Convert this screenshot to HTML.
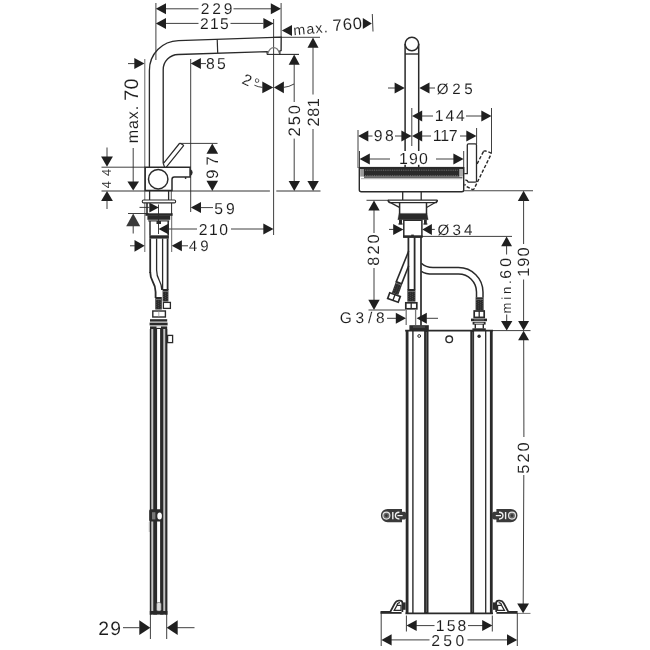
<!DOCTYPE html>
<html>
<head>
<meta charset="utf-8">
<title>Dimension drawing</title>
<style>
html,body{margin:0;padding:0;background:#fff;}
body{width:650px;height:650px;overflow:hidden;}
svg{display:block;}
svg text{font-family:"Liberation Sans",sans-serif;fill:#1c1c1c;stroke:#fff;stroke-width:0.08px;text-rendering:geometricPrecision;}
</style>
</head>
<body>
<svg width="650" height="650" viewBox="0 0 650 650">
<rect x="0" y="0" width="650" height="650" fill="#ffffff"/>
<g style="will-change:transform">
<line x1="155.9" y1="3" x2="155.9" y2="60" stroke="#2a2a2a" stroke-width="0.9" />
<line x1="281.1" y1="3" x2="281.1" y2="38" stroke="#2a2a2a" stroke-width="0.9" />
<line x1="273.6" y1="19" x2="273.6" y2="235" stroke="#2a2a2a" stroke-width="0.9" />
<polygon points="155.8,8.8 166.0,3.3 166.0,14.3" fill="#1f1f1f"/>
<polygon points="281,8.8 270.8,3.3 270.8,14.3" fill="#1f1f1f"/>
<line x1="166" y1="8.8" x2="198.5" y2="8.8" stroke="#2a2a2a" stroke-width="0.9" />
<line x1="233.5" y1="8.8" x2="271" y2="8.8" stroke="#2a2a2a" stroke-width="0.9" />
<text font-size="15.62" letter-spacing="2.89" transform="translate(200.71 13.6)">229</text>
<polygon points="155.8,23.4 166.0,17.9 166.0,28.9" fill="#1f1f1f"/>
<polygon points="273.6,23.4 263.4,17.9 263.4,28.9" fill="#1f1f1f"/>
<line x1="166" y1="23.4" x2="198.5" y2="23.4" stroke="#2a2a2a" stroke-width="0.9" />
<line x1="230.5" y1="23.4" x2="263.5" y2="23.4" stroke="#2a2a2a" stroke-width="0.9" />
<text font-size="15.62" letter-spacing="1.29" transform="translate(200.01 29)">215</text>
<polygon points="281.8,30.6 292.0,25.1 292.0,36.1" fill="#1f1f1f"/>
<text font-size="14.3" letter-spacing="1.19" transform="translate(294.6 35.2) rotate(-5.2) translate(-0.95 0)">max.</text>
<text font-size="16.6" letter-spacing="0.8" transform="translate(334 31.2) rotate(-5.2) translate(-0.85 0)">760</text>
<polygon points="371.8,23.4 362.8,17.9 362.8,28.9" fill="#1f1f1f"/>
<line x1="372.3" y1="14" x2="373" y2="31.5" stroke="#2a2a2a" stroke-width="0.9" />
<line x1="273" y1="37.3" x2="320" y2="37.3" stroke="#2a2a2a" stroke-width="0.9" />
<line x1="267" y1="54.4" x2="299" y2="54.4" stroke="#2a2a2a" stroke-width="1.1" />
<path d="M149.4,167 L149.4,70.4 A29.6,29.6 0 0 1 178.4,40.6 L281.2,37.1 L281.1,50.6 L279.8,51 L279.8,54.4" stroke="#2a2a2a" stroke-width="1.35" fill="none" />
<path d="M163.2,163.5 L163.2,69.8 A15.2,15.2 0 0 1 178.2,54.5 L267.2,51.6 L267.2,54.4" stroke="#2a2a2a" stroke-width="1.35" fill="none" />
<line x1="217.2" y1="39.3" x2="217.7" y2="53" stroke="#2a2a2a" stroke-width="1.2" />
<path d="M267.8,53.8 C269,49.5 271.5,47.6 273.6,47.6 C275.8,47.6 278.4,49.5 279.4,53.4" stroke="#777" stroke-width="1.2" fill="none" />
<polygon points="273.3,87.4 262.3,81.6 262.3,93.2" fill="#1f1f1f"/>
<polygon points="273.9,87.4 283.9,81.6 283.9,93.2" fill="#1f1f1f"/>
<path d="M254.4,85.2 Q258,87 262.5,87.4" stroke="#2a2a2a" stroke-width="0.9" fill="none" />
<path d="M283.5,87.4 Q289,87 294,84" stroke="#2a2a2a" stroke-width="0.9" fill="none" />
<text font-size="15.5" letter-spacing="2.29" transform="translate(241.6 83.2) rotate(24) translate(-0.78 0)">2°</text>
<polygon points="294.2,54.6 288.7,64.8 299.7,64.8" fill="#1f1f1f"/>
<line x1="294.2" y1="64" x2="294.2" y2="102" stroke="#2a2a2a" stroke-width="0.9" />
<line x1="294.2" y1="138.6" x2="294.2" y2="182" stroke="#2a2a2a" stroke-width="0.9" />
<polygon points="294.3,191.1 288.6,180.9 300.0,180.9" fill="#1f1f1f"/>
<text font-size="16.62" letter-spacing="1.88" transform="translate(299.6 136.44) rotate(-90)">250</text>
<polygon points="313,37.5 307.5,47.7 318.5,47.7" fill="#1f1f1f"/>
<line x1="313" y1="47" x2="313" y2="94.5" stroke="#2a2a2a" stroke-width="0.9" />
<line x1="313" y1="129" x2="313" y2="182" stroke="#2a2a2a" stroke-width="0.9" />
<polygon points="313.1,191.1 307.4,180.9 318.8,180.9" fill="#1f1f1f"/>
<text font-size="16.33" letter-spacing="0.48" transform="translate(319 126.42) rotate(-90)">281</text>
<line x1="101.5" y1="191.0" x2="269.9" y2="191.0" stroke="#333" stroke-width="1.0" />
<line x1="276.3" y1="191.0" x2="320.5" y2="191.0" stroke="#333" stroke-width="1.0" />
<polygon points="190.7,63.6 200.9,58.1 200.9,69.1" fill="#1f1f1f"/>
<line x1="200" y1="63.6" x2="206" y2="63.6" stroke="#2a2a2a" stroke-width="0.9" />
<text font-size="15.76" letter-spacing="2.22" transform="translate(206.12 69.2)">85</text>
<polygon points="144.5,63.6 134.3,58.1 134.3,69.1" fill="#1f1f1f"/>
<line x1="128" y1="63.6" x2="135" y2="63.6" stroke="#2a2a2a" stroke-width="0.9" />
<line x1="144.8" y1="59" x2="144.8" y2="252" stroke="#555" stroke-width="0.9" />
<line x1="190.7" y1="59" x2="190.7" y2="212" stroke="#2a2a2a" stroke-width="0.9" />
<text font-size="16" letter-spacing="0.95" transform="translate(138.2 143.36) rotate(-90)">max.</text>
<text font-size="19.63" letter-spacing="0.24" transform="translate(138.2 100.71) rotate(-90)">70</text>
<line x1="133.2" y1="148" x2="133.2" y2="182" stroke="#2a2a2a" stroke-width="0.9" />
<polygon points="133.2,190.6 127.4,181.6 139.0,181.6" fill="#1f1f1f"/>
<line x1="128" y1="213.5" x2="148.5" y2="213.5" stroke="#2a2a2a" stroke-width="0.9" />
<polygon points="133.2,213.6 126.2,226.2 140.2,226.2" fill="#3a3a3a"/>
<line x1="133.2" y1="226" x2="133.2" y2="233.5" stroke="#2a2a2a" stroke-width="0.9" />
<line x1="101.5" y1="167.2" x2="145" y2="167.2" stroke="#2a2a2a" stroke-width="0.9" />
<line x1="107" y1="147.5" x2="107" y2="157" stroke="#2a2a2a" stroke-width="0.9" />
<polygon points="107,166.7 101.1,156.5 112.9,156.5" fill="#1f1f1f"/>
<text font-size="13.08" letter-spacing="5.13" transform="translate(111 188.3) rotate(-90)">44</text>
<polygon points="107,190.9 101.1,201.1 112.9,201.1" fill="#1f1f1f"/>
<line x1="107" y1="200" x2="107" y2="209" stroke="#2a2a2a" stroke-width="0.9" />
<line x1="180" y1="143.4" x2="217.5" y2="143.4" stroke="#2a2a2a" stroke-width="0.9" />
<polygon points="212.3,143.6 206.5,153.8 218.1,153.8" fill="#1f1f1f"/>
<polygon points="212.3,191.0 206.5,180.8 218.1,180.8" fill="#1f1f1f"/>
<text font-size="16.62" letter-spacing="4.13" transform="translate(218 178.78) rotate(-90)">97</text>
<polygon points="190.8,207.6 201.0,202.1 201.0,213.1" fill="#1f1f1f"/>
<line x1="200" y1="207.6" x2="213" y2="207.6" stroke="#2a2a2a" stroke-width="0.9" />
<text font-size="15.76" letter-spacing="3.05" transform="translate(214.17 214)">59</text>
<polygon points="158.7,207.4 149.3,202.4 149.3,212.4" fill="#1f1f1f"/>
<line x1="139.5" y1="207.4" x2="149.5" y2="207.4" stroke="#2a2a2a" stroke-width="0.9" />
<line x1="158.5" y1="204.5" x2="158.5" y2="234" stroke="#2a2a2a" stroke-width="0.9" />
<polygon points="158.6,229 168.8,223.5 168.8,234.5" fill="#1f1f1f"/>
<line x1="168" y1="229" x2="197" y2="229" stroke="#2a2a2a" stroke-width="0.9" />
<text font-size="15.76" letter-spacing="1.56" transform="translate(198.71 234.5)">210</text>
<line x1="231" y1="229" x2="264" y2="229" stroke="#2a2a2a" stroke-width="0.9" />
<polygon points="273.5,229 263.3,223.5 263.3,234.5" fill="#1f1f1f"/>
<polygon points="144.7,245.8 134.5,239.9 134.5,251.7" fill="#1f1f1f"/>
<line x1="130" y1="245.8" x2="135" y2="245.8" stroke="#2a2a2a" stroke-width="0.9" />
<polygon points="171.7,245.8 181.9,240.3 181.9,251.3" fill="#1f1f1f"/>
<line x1="181" y1="245.8" x2="188" y2="245.8" stroke="#2a2a2a" stroke-width="0.9" />
<text font-size="15.04" letter-spacing="3.33" transform="translate(188.65 251)">49</text>
<line x1="171.7" y1="213" x2="171.7" y2="252" stroke="#555" stroke-width="0.9" />
<path d="M145.2,167.3 H190.1 V177.1 H174.3 Q172,177.1 172,179.4 V190.6 H145.2 Z" stroke="#2a2a2a" stroke-width="1.5" fill="#fff" />
<circle cx="158.2" cy="179.2" r="9.7" fill="#fff" stroke="#2a2a2a" stroke-width="1.5"/>
<path d="M190.3,169.5 Q192.3,170 192.3,172.5 Q192.3,175 190.3,175.6 Z" stroke="#2a2a2a" stroke-width="0.6" fill="#2a2a2a" />
<circle cx="185.6" cy="178" r="0.9" fill="#2a2a2a"/>
<path d="M163.3,163.6 L179.4,143.5 Q179.9,143 180.6,143.5 L183.2,145 Q183.8,145.4 183.4,146 L166.3,167.2" stroke="#2a2a2a" stroke-width="1.2" fill="none" />
<path d="M163.3,163.6 L164.6,167.2" stroke="#2a2a2a" stroke-width="1.2" fill="none" />
<line x1="149.6" y1="190.6" x2="149.6" y2="200" stroke="#2a2a2a" stroke-width="1.3" />
<line x1="168.6" y1="190.6" x2="168.6" y2="200" stroke="#2a2a2a" stroke-width="1.3" />
<line x1="171.3" y1="190.6" x2="171.3" y2="200" stroke="#2a2a2a" stroke-width="0.8" />
<rect x="142.3" y="200" width="33.3" height="2.9" fill="#fff" stroke="#2a2a2a" stroke-width="1.1" rx="1.2"/>
<line x1="147" y1="203" x2="147" y2="214" stroke="#2a2a2a" stroke-width="1.6" />
<line x1="171.6" y1="203" x2="171.6" y2="214" stroke="#2a2a2a" stroke-width="1.0" />
<rect x="145.4" y="213.3" width="27.2" height="2.5" fill="#2a2a2a" stroke="none" stroke-width="0" rx="0"/>
<rect x="147.4" y="215.4" width="22.8" height="4.4" fill="#2a2a2a" stroke="none" stroke-width="0" rx="0"/>
<line x1="148.2" y1="220.9" x2="169.3" y2="220.9" stroke="#2a2a2a" stroke-width="1.1" />
<rect x="156.5" y="221" width="4.5" height="3" fill="#2a2a2a" stroke="none" stroke-width="0" rx="0"/>
<line x1="150" y1="221" x2="150" y2="235.5" stroke="#2a2a2a" stroke-width="1.5" />
<line x1="168.2" y1="221" x2="168.2" y2="235.5" stroke="#2a2a2a" stroke-width="1.5" />
<rect x="149.3" y="235.3" width="19.6" height="3.3" fill="#2a2a2a" stroke="none" stroke-width="0" rx="0"/>
<line x1="150.2" y1="238.5" x2="150.2" y2="273" stroke="#2a2a2a" stroke-width="1.8" />
<path d="M150.2,272 C150.2,283 155.6,281 155.6,292 L155.6,298" stroke="#2a2a2a" stroke-width="1.8" fill="none" />
<path d="M156.6,238.5 L156.6,270 C156.6,281 161.8,280 161.8,290" stroke="#2a2a2a" stroke-width="1.3" fill="none" />
<line x1="162.6" y1="238.5" x2="162.6" y2="290" stroke="#2a2a2a" stroke-width="1.3" />
<line x1="167.6" y1="238.5" x2="167.6" y2="290" stroke="#2a2a2a" stroke-width="1.8" />
<rect x="162.6" y="289" width="5.8" height="12.5" fill="#2a2a2a" stroke="none" stroke-width="0" rx="0"/>
<line x1="163.57" y1="291.6" x2="163.57" y2="301.1" stroke="#5e5e5e" stroke-width="0.7" stroke-dasharray="0.9 1.3" stroke-dashoffset="0.0"/>
<line x1="165.5" y1="291.6" x2="165.5" y2="301.1" stroke="#5e5e5e" stroke-width="0.7" stroke-dasharray="0.9 1.3" stroke-dashoffset="1.1"/>
<line x1="167.43" y1="291.6" x2="167.43" y2="301.1" stroke="#5e5e5e" stroke-width="0.7" stroke-dasharray="0.9 1.3" stroke-dashoffset="2.2"/>
<line x1="163" y1="291.5" x2="168" y2="291.5" stroke="#aaa" stroke-width="0.5" />
<rect x="163.4" y="302.4" width="7.0" height="6.0" fill="#fff" stroke="#2a2a2a" stroke-width="1.3" rx="0"/>
<rect x="155.3" y="297" width="6.5" height="12.5" fill="#2a2a2a" stroke="none" stroke-width="0" rx="0"/>
<line x1="156.38" y1="299.6" x2="156.38" y2="309.1" stroke="#5e5e5e" stroke-width="0.7" stroke-dasharray="0.9 1.3" stroke-dashoffset="0.0"/>
<line x1="158.55" y1="299.6" x2="158.55" y2="309.1" stroke="#5e5e5e" stroke-width="0.7" stroke-dasharray="0.9 1.3" stroke-dashoffset="1.1"/>
<line x1="160.72" y1="299.6" x2="160.72" y2="309.1" stroke="#5e5e5e" stroke-width="0.7" stroke-dasharray="0.9 1.3" stroke-dashoffset="2.2"/>
<line x1="156" y1="299.5" x2="161" y2="299.5" stroke="#aaa" stroke-width="0.5" />
<rect x="152.8" y="311" width="12.6" height="6" fill="#fff" stroke="#2a2a2a" stroke-width="1.4" rx="0"/>
<line x1="158.8" y1="311" x2="158.8" y2="317" stroke="#8c8c8c" stroke-width="0.7" />
<rect x="150" y="319.2" width="17.2" height="2.4" fill="#2a2a2a" stroke="none" stroke-width="0" rx="0"/>
<rect x="149.6" y="322.6" width="18.0" height="2.8" fill="#2a2a2a" stroke="none" stroke-width="0" rx="0"/>
<rect x="150" y="326.4" width="17.2" height="2.6" fill="#2a2a2a" stroke="none" stroke-width="0" rx="0"/>
<rect x="156.5" y="326" width="4.5" height="2" fill="#ddd" stroke="none" stroke-width="0" rx="0"/>
<rect x="149.8" y="329" width="17.6" height="285.6" fill="#fff" stroke="none" stroke-width="0" rx="0"/>
<rect x="149.8" y="329" width="1.8" height="285.6" fill="#2a2a2a" stroke="none" stroke-width="0" rx="0"/>
<rect x="151.6" y="329" width="1.6" height="285.6" fill="#c4c4c4" stroke="none" stroke-width="0" rx="0"/>
<rect x="153.2" y="329" width="3.9" height="285.6" fill="#2a2a2a" stroke="none" stroke-width="0" rx="0"/>
<rect x="160.1" y="329" width="3.5" height="285.6" fill="#2a2a2a" stroke="none" stroke-width="0" rx="0"/>
<rect x="163.6" y="329" width="1.6" height="285.6" fill="#c4c4c4" stroke="none" stroke-width="0" rx="0"/>
<rect x="165.2" y="329" width="2.2" height="285.6" fill="#2a2a2a" stroke="none" stroke-width="0" rx="0"/>
<rect x="149.8" y="611" width="17.6" height="3.6" fill="#2a2a2a" stroke="none" stroke-width="0" rx="0"/>
<rect x="156.6" y="602.5" width="4.6" height="8.5" fill="#ddd" stroke="#555" stroke-width="0.6" rx="1.5"/>
<rect x="167.6" y="335.4" width="5.0" height="7.2" fill="#fff" stroke="#2a2a2a" stroke-width="1.3" rx="0"/>
<rect x="149.2" y="509.2" width="13.1" height="12.3" fill="#2a2a2a" stroke="none" stroke-width="0" rx="1.5"/>
<rect x="152" y="512.2" width="3.4" height="7.2" fill="#777" stroke="none" stroke-width="0" rx="0"/>
<ellipse cx="159.6" cy="516" rx="2.3" ry="3.6" fill="#fff"/>
<line x1="149.3" y1="522" x2="149.3" y2="532" stroke="#888" stroke-width="0.6" />
<text font-size="19.34" letter-spacing="1.18" transform="translate(98.33 634.5)">29</text>
<line x1="123" y1="627.7" x2="139.5" y2="627.7" stroke="#2a2a2a" stroke-width="0.9" />
<polygon points="150.3,627.7 139.3,620.3 139.3,635.1" fill="#1f1f1f"/>
<polygon points="166.7,627.7 177.7,620.3 177.7,635.1" fill="#1f1f1f"/>
<line x1="177" y1="627.7" x2="194.5" y2="627.7" stroke="#2a2a2a" stroke-width="0.9" />
<line x1="150.4" y1="614" x2="150.4" y2="639" stroke="#2a2a2a" stroke-width="0.9" />
<line x1="166.7" y1="614" x2="166.7" y2="639" stroke="#2a2a2a" stroke-width="0.9" />
<path d="M405.1,167.5 V44 M418.7,44 V167.5" stroke="#2a2a2a" stroke-width="1.5" fill="none" />
<circle cx="411.9" cy="44" r="6.8" fill="none" stroke="#2a2a2a" stroke-width="1.5"/>
<line x1="405.1" y1="54" x2="418.7" y2="54" stroke="#2a2a2a" stroke-width="1.4" />
<polygon points="404.8,88 394.6,82.5 394.6,93.5" fill="#1f1f1f"/>
<line x1="388" y1="88" x2="395" y2="88" stroke="#2a2a2a" stroke-width="0.9" />
<polygon points="419.3,88 429.5,82.5 429.5,93.5" fill="#1f1f1f"/>
<line x1="429" y1="88" x2="435" y2="88" stroke="#2a2a2a" stroke-width="0.9" />
<text font-size="15.19" letter-spacing="3.53" transform="translate(436.87 93.6)">Ø25</text>
<line x1="411.8" y1="108" x2="411.8" y2="146" stroke="#2a2a2a" stroke-width="0.9" />
<line x1="491.5" y1="108" x2="491.5" y2="153.5" stroke="#2a2a2a" stroke-width="0.9" />
<polygon points="412,116 422.2,110.5 422.2,121.5" fill="#1f1f1f"/>
<line x1="421" y1="116" x2="433" y2="116" stroke="#2a2a2a" stroke-width="0.9" />
<text font-size="15.7" letter-spacing="1.93" transform="translate(434.8 121.4)">144</text>
<line x1="466" y1="116" x2="482" y2="116" stroke="#2a2a2a" stroke-width="0.9" />
<polygon points="491.5,116 481.3,110.5 481.3,121.5" fill="#1f1f1f"/>
<line x1="358" y1="130" x2="358" y2="168" stroke="#2a2a2a" stroke-width="0.9" />
<line x1="476.6" y1="128" x2="476.6" y2="144" stroke="#2a2a2a" stroke-width="0.9" />
<polygon points="358.1,136 368.3,130.5 368.3,141.5" fill="#1f1f1f"/>
<line x1="368" y1="136" x2="372.5" y2="136" stroke="#2a2a2a" stroke-width="0.9" />
<text font-size="15.76" letter-spacing="2.29" transform="translate(373.86 141)">98</text>
<line x1="395" y1="136" x2="402" y2="136" stroke="#2a2a2a" stroke-width="0.9" />
<polygon points="411.6,136 401.4,130.5 401.4,141.5" fill="#1f1f1f"/>
<polygon points="412,136 422.2,130.5 422.2,141.5" fill="#1f1f1f"/>
<line x1="421" y1="136" x2="431" y2="136" stroke="#2a2a2a" stroke-width="0.9" />
<text font-size="15.99" letter-spacing="-0.33" transform="translate(432.78 141)">117</text>
<line x1="460" y1="136" x2="467" y2="136" stroke="#2a2a2a" stroke-width="0.9" />
<polygon points="476.5,136 466.3,130.5 466.3,141.5" fill="#1f1f1f"/>
<line x1="359.5" y1="151" x2="359.5" y2="168" stroke="#2a2a2a" stroke-width="0.9" />
<line x1="463.7" y1="151" x2="463.7" y2="174" stroke="#2a2a2a" stroke-width="0.9" />
<polygon points="359.6,159 369.8,153.5 369.8,164.5" fill="#1f1f1f"/>
<line x1="369" y1="159" x2="390" y2="159" stroke="#2a2a2a" stroke-width="0.9" />
<rect x="398.6" y="151" width="30.6" height="13.8" fill="#fff" stroke="none" stroke-width="0" rx="0"/>
<text font-size="15.9" letter-spacing="1.15" transform="translate(398.99 163.5)">190</text>
<line x1="436" y1="159" x2="454" y2="159" stroke="#2a2a2a" stroke-width="0.9" />
<polygon points="463.6,159 453.4,153.5 453.4,164.5" fill="#1f1f1f"/>
<path d="M359.3,167.6 H463.7 V190 Q463.7,191.8 461.8,191.8 H361.3 Q359.3,191.8 359.3,189.8 Z" stroke="#2a2a2a" stroke-width="1.4" fill="#fff" />
<rect x="359.3" y="166.9" width="104.4" height="2.1" fill="#2a2a2a" stroke="none" stroke-width="0" rx="0"/>
<rect x="360.2" y="169" width="3.6" height="7.6" fill="#999" stroke="none" stroke-width="0" rx="0"/>
<rect x="363.8" y="169" width="95.8" height="7.7" fill="#2a2a2a" stroke="none" stroke-width="0" rx="0"/>
<line x1="365" y1="170.2" x2="458.5" y2="170.2" stroke="#bbb" stroke-width="0.5" stroke-dasharray="1 0.8"/>
<line x1="365" y1="175.7" x2="458.5" y2="175.7" stroke="#bbb" stroke-width="0.5" stroke-dasharray="1 0.8"/>
<rect x="459.6" y="169" width="3.4" height="7.6" fill="#aaa" stroke="none" stroke-width="0" rx="0"/>
<line x1="364" y1="177.6" x2="462.5" y2="177.6" stroke="#2a2a2a" stroke-width="0.8" />
<line x1="361" y1="178.7" x2="462.5" y2="178.7" stroke="#999" stroke-width="0.8" />
<line x1="463.7" y1="190.7" x2="533" y2="190.7" stroke="#444" stroke-width="1.1" />
<path d="M464.3,173.6 H467.3 V145 Q467.3,143.8 468.5,143.8 H475.3 Q476.5,143.8 476.5,145 V181.3 Q476.3,182.2 474.6,182.2 H468.3 Q467.6,180.2 465.4,180" stroke="#2a2a2a" stroke-width="1.3" fill="none" />
<path d="M483.4,151.6 Q484.2,150.6 485.6,151 L490.2,152.6 Q491.5,153.2 490.9,154.6 L474.2,188.6 Q473.4,189.9 472,189.3 L465.6,186 Q464.6,185.2 465.2,184" stroke="#2a2a2a" stroke-width="1.4" fill="none" stroke-dasharray="3.4 1.8"/>
<path d="M483.4,151.6 L476.8,164.5" stroke="#2a2a2a" stroke-width="1.4" fill="none" stroke-dasharray="3.4 1.8"/>
<line x1="402.7" y1="192" x2="402.7" y2="200" stroke="#2a2a2a" stroke-width="1.3" />
<line x1="421.2" y1="192" x2="421.2" y2="200" stroke="#2a2a2a" stroke-width="1.3" />
<line x1="366.5" y1="200.3" x2="389" y2="200.3" stroke="#2a2a2a" stroke-width="0.9" />
<path d="M388.6,200.1 H436.8 Q437.6,200.2 437.2,201.2 L436.3,202.6 H389.4 L388.2,201.2 Q387.8,200.2 388.6,200.1 Z" stroke="#2a2a2a" stroke-width="1.4" fill="#fff" />
<path d="M388.6,201.6 L399.4,207.4 M437,201.6 L426.6,207.4" stroke="#2a2a2a" stroke-width="1.2" fill="none" />
<line x1="399.6" y1="202.6" x2="399.6" y2="214" stroke="#2a2a2a" stroke-width="1.5" />
<line x1="426.5" y1="202.6" x2="426.5" y2="214" stroke="#2a2a2a" stroke-width="1.5" />
<path d="M399,213.4 H427 L428.2,219.7 H397.8 Z" stroke="#2a2a2a" stroke-width="0.3" fill="#2a2a2a" />
<rect x="399" y="219.5" width="3" height="4.7" fill="#2a2a2a" stroke="none" stroke-width="0" rx="0"/>
<rect x="424" y="219.5" width="2.8" height="4.7" fill="#2a2a2a" stroke="none" stroke-width="0" rx="0"/>
<rect x="398.4" y="223.4" width="4.2" height="1.2" fill="#2a2a2a" stroke="none" stroke-width="0" rx="0"/>
<rect x="423.4" y="223.4" width="4.0" height="1.2" fill="#2a2a2a" stroke="none" stroke-width="0" rx="0"/>
<path d="M403.8,220.3 V236.5 H421.9 V220.3 Z" stroke="#2a2a2a" stroke-width="1.5" fill="#fff" />
<rect x="403.1" y="235.4" width="19.5" height="2.5" fill="#2a2a2a" stroke="none" stroke-width="0" rx="0"/>
<rect x="411.2" y="234.6" width="2.6" height="1.4" fill="#2a2a2a" stroke="none" stroke-width="0" rx="0"/>
<polygon points="374,200.4 368.3,210.6 379.7,210.6" fill="#1f1f1f"/>
<line x1="374" y1="210" x2="374" y2="233" stroke="#2a2a2a" stroke-width="0.9" />
<text font-size="16.33" letter-spacing="2.05" transform="translate(379.4 265.71) rotate(-90)">820</text>
<line x1="374" y1="268" x2="374" y2="301" stroke="#2a2a2a" stroke-width="0.9" />
<polygon points="374,310 368.3,299.8 379.7,299.8" fill="#1f1f1f"/>
<line x1="368.5" y1="310" x2="405.5" y2="310" stroke="#2a2a2a" stroke-width="0.9" />
<polygon points="403.4,229.4 393.2,223.9 393.2,234.9" fill="#1f1f1f"/>
<line x1="389" y1="229.4" x2="394" y2="229.4" stroke="#2a2a2a" stroke-width="0.9" />
<polygon points="422.3,229.4 431.9,223.9 431.9,234.9" fill="#1f1f1f"/>
<line x1="431" y1="229.4" x2="434.8" y2="229.4" stroke="#2a2a2a" stroke-width="0.9" />
<text font-size="15.19" letter-spacing="3.13" transform="translate(437.47 235.4)">Ø34</text>
<line x1="422" y1="236.4" x2="512" y2="236.4" stroke="#2a2a2a" stroke-width="0.9" />
<line x1="408.4" y1="237" x2="408.4" y2="289.5" stroke="#2a2a2a" stroke-width="1.8" />
<line x1="414.6" y1="237" x2="414.6" y2="289.5" stroke="#2a2a2a" stroke-width="1.8" />
<line x1="421" y1="237" x2="421" y2="325.5" stroke="#2a2a2a" stroke-width="1.7" />
<path d="M408.7,251 L396,282.4" stroke="#2a2a2a" stroke-width="1.6" fill="none" />
<path d="M408.7,265.8 L401.8,283.4" stroke="#2a2a2a" stroke-width="1.6" fill="none" />
<g transform="rotate(20 399.3 282)">
<rect x="396" y="282" width="6.8" height="12.6" fill="#2a2a2a" stroke="none" stroke-width="0" rx="0"/>
<line x1="397.13" y1="284.6" x2="397.13" y2="294.20000000000005" stroke="#5e5e5e" stroke-width="0.7" stroke-dasharray="0.9 1.3" stroke-dashoffset="0.0"/>
<line x1="399.4" y1="284.6" x2="399.4" y2="294.20000000000005" stroke="#5e5e5e" stroke-width="0.7" stroke-dasharray="0.9 1.3" stroke-dashoffset="1.1"/>
<line x1="401.67" y1="284.6" x2="401.67" y2="294.20000000000005" stroke="#5e5e5e" stroke-width="0.7" stroke-dasharray="0.9 1.3" stroke-dashoffset="2.2"/>
<line x1="396.4" y1="284.2" x2="402.4" y2="284.2" stroke="#aaa" stroke-width="0.5" />
<rect x="394" y="295.4" width="11.2" height="6.0" fill="#fff" stroke="#2a2a2a" stroke-width="1.7" rx="0"/>
<line x1="399.6" y1="295.4" x2="399.6" y2="301.4" stroke="#2a2a2a" stroke-width="1.3" />
</g>
<rect x="407.4" y="289" width="8.0" height="12.6" fill="#2a2a2a" stroke="none" stroke-width="0" rx="0"/>
<line x1="408.4" y1="291.6" x2="408.4" y2="301.20000000000005" stroke="#5e5e5e" stroke-width="0.7" stroke-dasharray="0.9 1.3" stroke-dashoffset="0.0"/>
<line x1="410.4" y1="291.6" x2="410.4" y2="301.20000000000005" stroke="#5e5e5e" stroke-width="0.7" stroke-dasharray="0.9 1.3" stroke-dashoffset="1.1"/>
<line x1="412.4" y1="291.6" x2="412.4" y2="301.20000000000005" stroke="#5e5e5e" stroke-width="0.7" stroke-dasharray="0.9 1.3" stroke-dashoffset="2.2"/>
<line x1="414.4" y1="291.6" x2="414.4" y2="301.20000000000005" stroke="#5e5e5e" stroke-width="0.7" stroke-dasharray="0.9 1.3" stroke-dashoffset="3.3000000000000003"/>
<line x1="408" y1="291.5" x2="415" y2="291.5" stroke="#aaa" stroke-width="0.5" />
<rect x="405.8" y="302.8" width="11.0" height="6.0" fill="#fff" stroke="#2a2a2a" stroke-width="1.7" rx="0"/>
<line x1="411.2" y1="303" x2="411.2" y2="309" stroke="#2a2a2a" stroke-width="1.3" />
<line x1="406.2" y1="309.6" x2="406.2" y2="325" stroke="#777" stroke-width="1.3" />
<line x1="415.6" y1="309.6" x2="415.6" y2="325" stroke="#777" stroke-width="1.3" />
<rect x="409.4" y="325.2" width="19.4" height="5.0" fill="#2a2a2a" stroke="none" stroke-width="0" rx="0"/>
<line x1="413" y1="327" x2="425" y2="327" stroke="#999" stroke-width="0.5" />
<path d="M421.4,263.3 C424.5,266.4 428,267.5 433,267.5 H458.5 A24.5,24.5 0 0 1 483,292 V297.5" stroke="#2a2a2a" stroke-width="1.5" fill="none" />
<path d="M421.4,271.3 C424.5,273.4 428,274.1 433,274.1 H458.5 A18,18 0 0 1 476.5,292 V297.5" stroke="#2a2a2a" stroke-width="1.5" fill="none" />
<rect x="475.6" y="297.3" width="8.0" height="13.1" fill="#2a2a2a" stroke="none" stroke-width="0" rx="0"/>
<line x1="476.6" y1="299.90000000000003" x2="476.6" y2="310.0" stroke="#5e5e5e" stroke-width="0.7" stroke-dasharray="0.9 1.3" stroke-dashoffset="0.0"/>
<line x1="478.6" y1="299.90000000000003" x2="478.6" y2="310.0" stroke="#5e5e5e" stroke-width="0.7" stroke-dasharray="0.9 1.3" stroke-dashoffset="1.1"/>
<line x1="480.6" y1="299.90000000000003" x2="480.6" y2="310.0" stroke="#5e5e5e" stroke-width="0.7" stroke-dasharray="0.9 1.3" stroke-dashoffset="2.2"/>
<line x1="482.6" y1="299.90000000000003" x2="482.6" y2="310.0" stroke="#5e5e5e" stroke-width="0.7" stroke-dasharray="0.9 1.3" stroke-dashoffset="3.3000000000000003"/>
<line x1="476.2" y1="299.4" x2="483" y2="299.4" stroke="#aaa" stroke-width="0.5" />
<rect x="474.2" y="311" width="10.0" height="6.4" fill="#fff" stroke="#2a2a2a" stroke-width="1.7" rx="0"/>
<line x1="479.2" y1="311" x2="479.2" y2="317.4" stroke="#2a2a2a" stroke-width="1.3" />
<rect x="471" y="318.6" width="16" height="2.6" fill="#2a2a2a" stroke="none" stroke-width="0" rx="0"/>
<line x1="474" y1="319.9" x2="484" y2="319.9" stroke="#bbb" stroke-width="0.5" />
<rect x="472.6" y="321.9" width="13.0" height="2.7" fill="#2a2a2a" stroke="none" stroke-width="0" rx="0"/>
<rect x="474.4" y="322.7" width="9.4" height="1.1" fill="#ddd" stroke="none" stroke-width="0" rx="0"/>
<line x1="475.3" y1="324" x2="475.3" y2="328.6" stroke="#2a2a2a" stroke-width="1.4" />
<line x1="483.3" y1="324" x2="483.3" y2="328.6" stroke="#2a2a2a" stroke-width="1.4" />
<rect x="472.4" y="328.3" width="13.4" height="2.5" fill="#2a2a2a" stroke="none" stroke-width="0" rx="0"/>
<text font-size="15.47" letter-spacing="3.77" transform="translate(339.82 323.4)">G3/8</text>
<line x1="387" y1="318.3" x2="397" y2="318.3" stroke="#2a2a2a" stroke-width="0.9" />
<polygon points="406,318.3 395.8,312.8 395.8,323.8" fill="#1f1f1f"/>
<polygon points="416.6,318.3 426.8,312.8 426.8,323.8" fill="#1f1f1f"/>
<line x1="426" y1="318.3" x2="438" y2="318.3" stroke="#2a2a2a" stroke-width="0.9" />
<line x1="405.2" y1="330.6" x2="493" y2="330.6" stroke="#2a2a2a" stroke-width="1.6" />
<line x1="407.1" y1="330" x2="407.1" y2="613" stroke="#2a2a2a" stroke-width="2.8" />
<line x1="412.9" y1="330" x2="412.9" y2="613" stroke="#2a2a2a" stroke-width="1.4" />
<line x1="426.3" y1="330" x2="426.3" y2="613" stroke="#2a2a2a" stroke-width="4.4" />
<line x1="426.4" y1="332" x2="426.4" y2="612" stroke="#999" stroke-width="0.5" />
<line x1="472.2" y1="330" x2="472.2" y2="613" stroke="#2a2a2a" stroke-width="3.8" />
<line x1="472.7" y1="332" x2="472.7" y2="612" stroke="#999" stroke-width="0.5" />
<line x1="485.7" y1="330" x2="485.7" y2="613" stroke="#2a2a2a" stroke-width="1.3" />
<line x1="491.3" y1="330" x2="491.3" y2="613" stroke="#2a2a2a" stroke-width="2.8" />
<circle cx="419.2" cy="336" r="1.4" fill="#fff" stroke="#2a2a2a" stroke-width="1"/>
<circle cx="449.2" cy="339.3" r="3.3" fill="#fff" stroke="#2a2a2a" stroke-width="1.4"/>
<circle cx="479.1" cy="336.2" r="1.7" fill="#2a2a2a"/>
<line x1="380.5" y1="612.4" x2="401.6" y2="612.4" stroke="#2a2a2a" stroke-width="2.8" />
<line x1="496.4" y1="612.4" x2="517.6" y2="612.4" stroke="#2a2a2a" stroke-width="2.8" />
<line x1="405.4" y1="613.4" x2="493" y2="613.4" stroke="#2a2a2a" stroke-width="1.7" />
<line x1="517.6" y1="613.4" x2="530.5" y2="613.4" stroke="#666" stroke-width="0.9" />
<g transform="translate(406 515.6) scale(1 1)">
<path d="M0.4,-2.6 L-1.4,-3.8 H-4 V-6.7 H-18.4 A6.7,6.7 0 0 0 -18.4,6.7 H-4 V3.8 H-1.4 L0.4,2.6 Z" fill="#3a3a3a"/>
<circle cx="-19.6" cy="0" r="3.5" fill="#666" stroke="#e4e4e4" stroke-width="1.1"/>
<circle cx="-19.6" cy="0" r="1.3" fill="#333"/>
<path d="M-13.2,-3.6 V3.6" stroke="#f0f0f0" stroke-width="1.4"/>
<path d="M-6.6,-3.4 Q-10.6,-3.4 -10.6,0 Q-10.6,3.4 -6.6,3.4" stroke="#f0f0f0" stroke-width="1.4" fill="none"/>
<path d="M-8.6,0 H-3.4" stroke="#f0f0f0" stroke-width="1.2"/>
</g>
<g transform="translate(492.4 515.6) scale(-1 1)">
<path d="M0.4,-2.6 L-1.4,-3.8 H-4 V-6.7 H-18.4 A6.7,6.7 0 0 0 -18.4,6.7 H-4 V3.8 H-1.4 L0.4,2.6 Z" fill="#3a3a3a"/>
<circle cx="-19.6" cy="0" r="3.5" fill="#666" stroke="#e4e4e4" stroke-width="1.1"/>
<circle cx="-19.6" cy="0" r="1.3" fill="#333"/>
<path d="M-13.2,-3.6 V3.6" stroke="#f0f0f0" stroke-width="1.4"/>
<path d="M-6.6,-3.4 Q-10.6,-3.4 -10.6,0 Q-10.6,3.4 -6.6,3.4" stroke="#f0f0f0" stroke-width="1.4" fill="none"/>
<path d="M-8.6,0 H-3.4" stroke="#f0f0f0" stroke-width="1.2"/>
</g>
<g transform="translate(405.6 612) scale(1 1)">
<path d="M-15.4,0 L-10.6,-9 Q-9.4,-11.4 -6.8,-11.4 H-5.6 Q-3.2,-11.4 -3.2,-9 V0" fill="#fff" stroke="#2a2a2a" stroke-width="1.7"/>
<path d="M-11.4,-1.6 L-8.6,-6.6 H-4.6 V-1.6 Z" fill="#fff" stroke="#2a2a2a" stroke-width="1.2"/>
<path d="M-8.6,-7 Q-8,-9.4 -5.6,-9.4" fill="none" stroke="#2a2a2a" stroke-width="1.1"/>
<rect x="-3" y="-9.6" width="3" height="7.4" fill="#2a2a2a"/>
</g>
<g transform="translate(493 612) scale(-1 1)">
<path d="M-15.4,0 L-10.6,-9 Q-9.4,-11.4 -6.8,-11.4 H-5.6 Q-3.2,-11.4 -3.2,-9 V0" fill="#fff" stroke="#2a2a2a" stroke-width="1.7"/>
<path d="M-11.4,-1.6 L-8.6,-6.6 H-4.6 V-1.6 Z" fill="#fff" stroke="#2a2a2a" stroke-width="1.2"/>
<path d="M-8.6,-7 Q-8,-9.4 -5.6,-9.4" fill="none" stroke="#2a2a2a" stroke-width="1.1"/>
<rect x="-3" y="-9.6" width="3" height="7.4" fill="#2a2a2a"/>
</g>
<line x1="406.4" y1="615.5" x2="406.4" y2="631.5" stroke="#2a2a2a" stroke-width="0.9" />
<line x1="492.3" y1="615.5" x2="492.3" y2="631.5" stroke="#2a2a2a" stroke-width="0.9" />
<polygon points="406.5,625.6 416.7,620.1 416.7,631.1" fill="#1f1f1f"/>
<line x1="416" y1="625.6" x2="434.5" y2="625.6" stroke="#2a2a2a" stroke-width="0.9" />
<text font-size="15.76" letter-spacing="2.1" transform="translate(435.8 631)">158</text>
<line x1="468" y1="625.6" x2="483" y2="625.6" stroke="#2a2a2a" stroke-width="0.9" />
<polygon points="492.4,625.6 482.2,620.1 482.2,631.1" fill="#1f1f1f"/>
<line x1="381.2" y1="612" x2="381.2" y2="646" stroke="#2a2a2a" stroke-width="0.9" />
<line x1="517.3" y1="613" x2="517.3" y2="646" stroke="#2a2a2a" stroke-width="0.9" />
<polygon points="381.4,639.9 391.6,634.2 391.6,645.6" fill="#1f1f1f"/>
<line x1="391" y1="639.9" x2="429.5" y2="639.9" stroke="#2a2a2a" stroke-width="0.9" />
<text font-size="15.76" letter-spacing="3.36" transform="translate(431.21 645.5)">250</text>
<line x1="467.5" y1="639.9" x2="508" y2="639.9" stroke="#2a2a2a" stroke-width="0.9" />
<polygon points="517.2,639.9 507.0,634.2 507.0,645.6" fill="#1f1f1f"/>
<polygon points="506.6,236.6 501.2,246.2 512.0,246.2" fill="#1f1f1f"/>
<line x1="506.6" y1="246" x2="506.6" y2="254.5" stroke="#2a2a2a" stroke-width="0.9" />
<text font-size="13.2" letter-spacing="2.71" transform="translate(511.2 313.38) rotate(-90)">min.</text>
<text font-size="15.76" letter-spacing="3.39" transform="translate(511.2 278.8) rotate(-90)">60</text>
<line x1="506.7" y1="314.5" x2="506.7" y2="322" stroke="#2a2a2a" stroke-width="0.9" />
<polygon points="506.7,330.5 501.0,320.9 512.4,320.9" fill="#1f1f1f"/>
<polygon points="523.6,190.8 517.8,201.0 529.4,201.0" fill="#1f1f1f"/>
<line x1="523.6" y1="200" x2="523.6" y2="244" stroke="#2a2a2a" stroke-width="0.9" />
<text font-size="16.33" letter-spacing="1.12" transform="translate(529.4 276.84) rotate(-90)">190</text>
<line x1="523.6" y1="279.5" x2="523.6" y2="322" stroke="#2a2a2a" stroke-width="0.9" />
<polygon points="523.6,330.5 518.1,320.9 529.1,320.9" fill="#1f1f1f"/>
<line x1="492.4" y1="330.6" x2="530.5" y2="330.6" stroke="#2a2a2a" stroke-width="0.9" />
<polygon points="523.6,330.7 518.1,340.3 529.1,340.3" fill="#1f1f1f"/>
<line x1="523.7" y1="340" x2="523.9" y2="437" stroke="#2a2a2a" stroke-width="0.9" />
<text font-size="16.33" letter-spacing="2.02" transform="translate(529.4 473.65) rotate(-90)">520</text>
<line x1="523.8" y1="475" x2="523.2" y2="604" stroke="#2a2a2a" stroke-width="0.9" />
<polygon points="523.1,613.3 517.2,603.5 529.0,603.5" fill="#1f1f1f"/>
</g>
</svg>
</body>
</html>
